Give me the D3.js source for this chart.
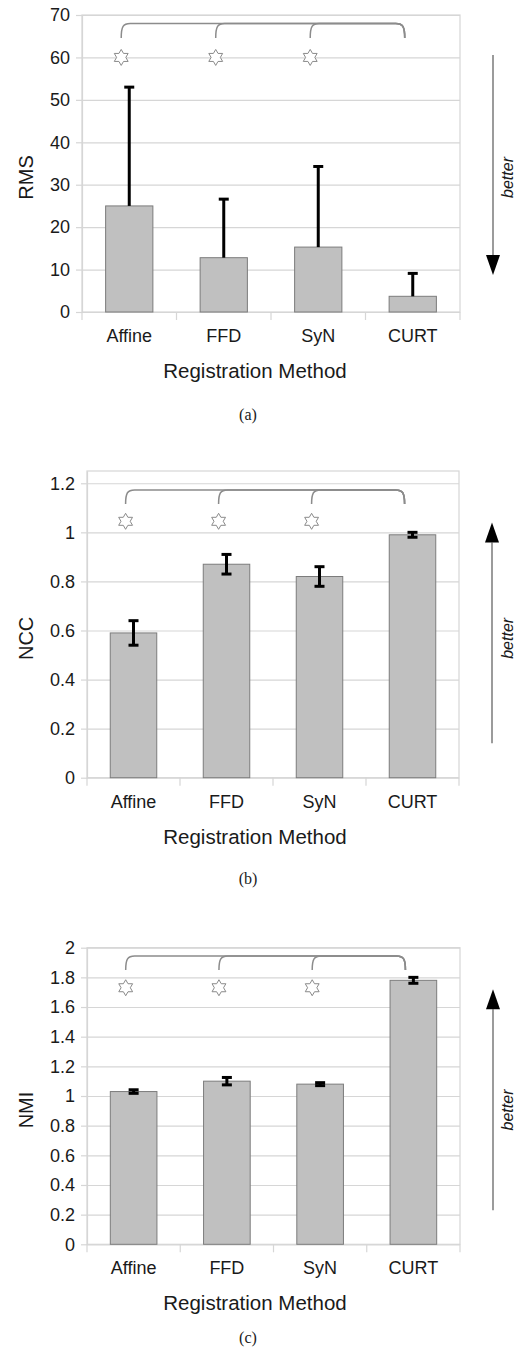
<!DOCTYPE html>
<html><head><meta charset="utf-8">
<script src="https://cdn.jsdelivr.net/npm/d3@7"></script>
<style>body{margin:0;background:#fff}svg{display:block}</style>
</head><body>
<svg id="chart" width="518" height="1357"></svg>
<script>
// ---------- data ----------
const categories = ["Affine", "FFD", "SyN", "CURT"];

const rmsMean = [25, 12.8, 15.3, 3.7];
const rmsErr  = [28, 13.8, 19, 5.4];
const rmsTicks = [0, 10, 20, 30, 40, 50, 60, 70];
const rmsTickLabels = ["0", "10", "20", "30", "40", "50", "60", "70"];

const nccMean = [0.59, 0.87, 0.82, 0.99];
const nccErr  = [0.05, 0.04, 0.04, 0.01];
const nccTicks = [0, 0.2, 0.4, 0.6, 0.8, 1, 1.2];
const nccTickLabels = ["0", "0.2", "0.4", "0.6", "0.8", "1", "1.2"];

const nmiMean = [1.03, 1.10, 1.08, 1.78];
const nmiErr  = [0.012, 0.025, 0.01, 0.02];
const nmiTicks = [0, 0.2, 0.4, 0.6, 0.8, 1, 1.2, 1.4, 1.6, 1.8, 2];
const nmiTickLabels = ["0", "0.2", "0.4", "0.6", "0.8", "1", "1.2", "1.4", "1.6", "1.8", "2"];

// annotation levels (data units) per panel: a, b, c
const starLevels    = [60, 1.045, 1.73];
const bracketTops   = [68, 1.173, 1.944];
const bracketBottoms= [64.6, 1.116, 1.85];
const arrowFrom     = [60.6, 0.14, 0.23];
const arrowTo       = [8.7, 1.04, 1.72];
const significant   = ["Affine", "FFD", "SyN"];   // compared against CURT
const reference     = "CURT";

// ---------- styles ----------
const gridColor = "#d6d6d6";
const textColor = "#1a1a1a";
const sans = "'Liberation Sans', Arial, Helvetica, sans-serif";
const serif = "'Liberation Serif', 'Times New Roman', serif";

const svg = d3.select("#chart");

const panels = [
  {mean: rmsMean, err: rmsErr, oneSided: true, ticks: rmsTicks, labels: rmsTickLabels, yMax: 70,
   title: "RMS", caption: "(a)", idx: 0,
   L: {left: 82, right: 460, top: 15, bottom: 312, captionY: 420}},
  {mean: nccMean, err: nccErr, oneSided: false, ticks: nccTicks, labels: nccTickLabels, yMax: 1.25,
   title: "NCC", caption: "(b)", idx: 1,
   L: {left: 87, right: 459, top: 471, bottom: 777.7, captionY: 884}},
  {mean: nmiMean, err: nmiErr, oneSided: false, ticks: nmiTicks, labels: nmiTickLabels, yMax: 2,
   title: "NMI", caption: "(c)", idx: 2,
   L: {left: 87, right: 460, top: 947.7, bottom: 1244.3, captionY: 1343}}
];

function starPath(cx, cy, R) {
  const pts = [];
  for (let k = 0; k < 12; k++) {
    const a = (-90 + k * 30) * Math.PI / 180;
    const r = k % 2 === 0 ? R : R / Math.sqrt(3);
    pts.push([cx + r * Math.cos(a), cy + r * Math.sin(a)]);
  }
  return "M" + pts.map(p => p.join(",")).join("L") + "Z";
}

function drawPanel(p) {
  const L = p.L;
  const g = svg.append("g");
  const x = d3.scaleBand().domain(categories).range([L.left, L.right]).padding(0);
  const y = d3.scaleLinear().domain([0, p.yMax]).range([L.bottom, L.top]);
  const bw = x.bandwidth();
  const cx = c => x(c) + bw / 2;
  const W = L.right - L.left;

  // gridlines
  g.append("g").attr("transform", `translate(${L.left},0)`)
    .call(d3.axisLeft(y).tickValues(p.ticks).tickSize(-W).tickFormat(""))
    .call(s => { s.select(".domain").remove(); s.selectAll("line").attr("stroke", gridColor).attr("stroke-width", 1.2); });

  // plot border
  g.append("rect").attr("x", L.left).attr("y", L.top).attr("width", W).attr("height", L.bottom - L.top)
    .attr("fill", "none").attr("stroke", gridColor).attr("stroke-width", 1.2);

  // y axis ticks + labels
  g.append("g").attr("transform", `translate(${L.left},0)`)
    .call(d3.axisLeft(y).tickValues(p.ticks).tickFormat((d, i) => p.labels[i]).tickSize(6).tickSizeOuter(0).tickPadding(6))
    .call(s => {
      s.select(".domain").attr("stroke", gridColor).attr("stroke-width", 1.2);
      s.selectAll("line").attr("stroke", gridColor).attr("stroke-width", 1.2);
      s.selectAll("text").attr("fill", textColor).style("font-family", sans).style("font-size", "18px");
    });

  // x boundary ticks
  const bounds = categories.map(c => x(c)).concat([L.right]);
  g.selectAll(".xb").data(bounds).join("line")
    .attr("x1", d => d).attr("x2", d => d).attr("y1", y(0)).attr("y2", y(0) + 8)
    .attr("stroke", gridColor).attr("stroke-width", 1.2);

  // bars
  const bw2 = bw * 0.5;
  g.selectAll(".bar").data(categories).join("rect")
    .attr("x", c => cx(c) - bw2 / 2).attr("width", bw2)
    .attr("y", (c, i) => y(p.mean[i])).attr("height", (c, i) => y(0) - y(p.mean[i]))
    .attr("fill", "#c0c0c0").attr("stroke", "#7c7c7c").attr("stroke-width", 1);

  // error bars
  const capW = 10;
  categories.forEach((c, i) => {
    const hi = p.mean[i] + p.err[i];
    const lo = p.oneSided ? p.mean[i] : p.mean[i] - p.err[i];
    const xc = cx(c);
    g.append("line").attr("x1", xc).attr("x2", xc).attr("y1", y(lo)).attr("y2", y(hi))
      .attr("stroke", "#000").attr("stroke-width", 3);
    g.append("line").attr("x1", xc - capW / 2).attr("x2", xc + capW / 2).attr("y1", y(hi)).attr("y2", y(hi))
      .attr("stroke", "#000").attr("stroke-width", 3);
    if (!p.oneSided) {
      g.append("line").attr("x1", xc - capW / 2).attr("x2", xc + capW / 2).attr("y1", y(lo)).attr("y2", y(lo))
        .attr("stroke", "#000").attr("stroke-width", 3);
    }
  });

  // category labels
  g.selectAll(".cat").data(categories).join("text")
    .attr("x", c => cx(c)).attr("y", y(0) + 30).attr("text-anchor", "middle")
    .attr("fill", textColor).style("font-family", sans).style("font-size", "18px")
    .text(c => c);

  // x title
  g.append("text").attr("x", 255).attr("y", y(0) + 66).attr("text-anchor", "middle")
    .attr("fill", textColor).style("font-family", sans).style("font-size", "20.5px").text("Registration Method");

  // caption
  g.append("text").attr("x", 248).attr("y", L.captionY).attr("text-anchor", "middle")
    .attr("fill", textColor).style("font-family", serif).style("font-size", "16px").text(p.caption);

  const midY = (L.top + L.bottom) / 2 + 14;
  // y title
  g.append("text").attr("transform", `translate(33,${midY}) rotate(-90)`).attr("text-anchor", "middle")
    .attr("fill", textColor).style("font-family", sans).style("font-size", "20px").text(p.title);

  // significance annotations
  const off = -0.085 * bw;
  const k = p.idx;
  significant.forEach(c => {
    g.append("path").attr("d", starPath(cx(c) + off, y(starLevels[k]), 8))
      .attr("fill", "#fff").attr("stroke", "#8a8a8a").attr("stroke-width", 1);
    const x0 = cx(c) + off, x1 = cx(reference) + off;
    const yt = y(bracketTops[k]), yb = y(bracketBottoms[k]);
    g.append("path")
      .attr("d", `M${x0},${yb} C${x0},${yt + 3} ${x0 + 2},${yt} ${x0 + 9},${yt} L${x1 - 9},${yt} C${x1 - 2},${yt} ${x1},${yt + 3} ${x1},${yb}`)
      .attr("fill", "none").attr("stroke", "#8c8c8c").attr("stroke-width", 1.5);
  });

  // better arrow
  const ax = L.right + 33;
  const yFrom = y(arrowFrom[k]), yTo = y(arrowTo[k]);
  const dir = yTo > yFrom ? 1 : -1;
  const headH = 20, headW = 14;
  g.append("line").attr("x1", ax).attr("x2", ax).attr("y1", yFrom).attr("y2", yTo - dir * headH)
    .attr("stroke", "#7a7a7a").attr("stroke-width", 1.5);
  g.append("path")
    .attr("d", `M${ax},${yTo} L${ax - headW / 2},${yTo - dir * headH} L${ax + headW / 2},${yTo - dir * headH}Z`)
    .attr("fill", "#000");
  g.append("text").attr("transform", `translate(513,${midY}) rotate(-90)`).attr("text-anchor", "middle")
    .attr("fill", textColor).style("font-family", sans).style("font-style", "italic").style("font-size", "16px")
    .text("better");
}

panels.forEach(drawPanel);
</script>
</body></html>
